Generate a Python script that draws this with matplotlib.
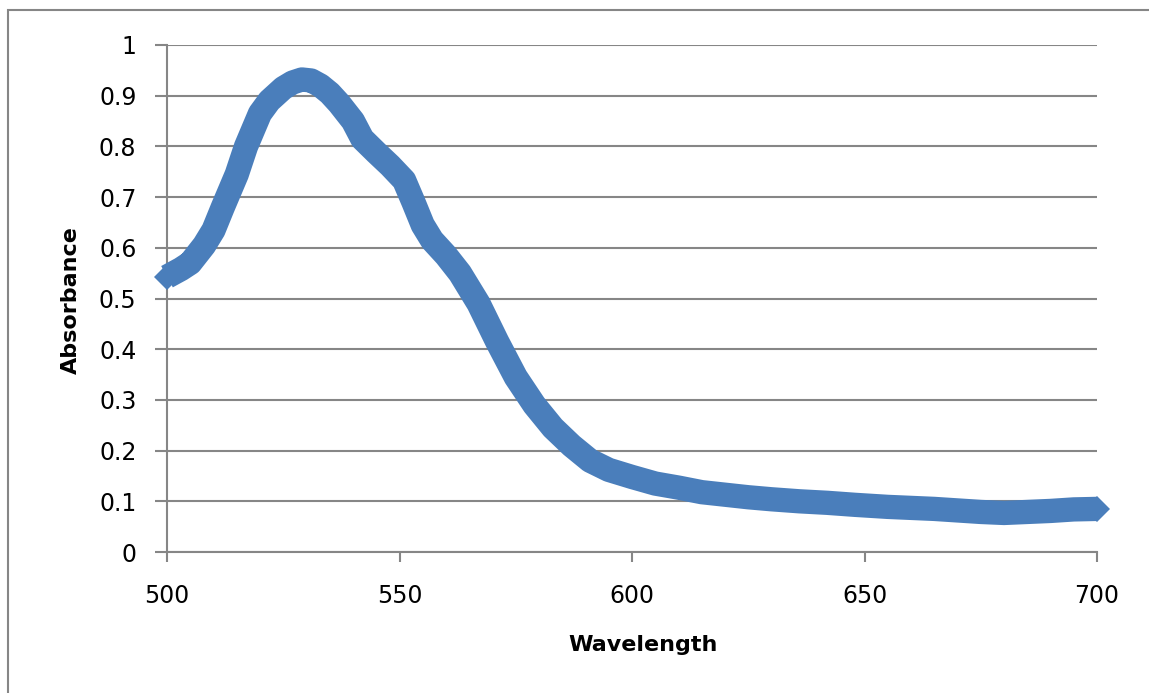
import matplotlib.pyplot as plt
from matplotlib.patches import Rectangle

# absorbance spectrum, read in nm steps
wavelength = [500, 503, 505, 508, 510, 512, 515, 517, 520, 522, 525, 527, 529,
              531, 533, 535, 537, 540, 542, 545, 548, 551, 553, 555, 557, 560,
              563, 567, 571, 575, 579, 583, 587, 591, 595, 600, 605, 610, 615,
              620, 625, 630, 636, 642, 648, 655, 660, 665, 670, 675, 680, 685,
              690, 695, 700]
absorbance = [0.543, 0.558, 0.570, 0.605, 0.635, 0.680, 0.745, 0.800, 0.865,
              0.890, 0.915, 0.926, 0.932, 0.930, 0.920, 0.905, 0.885, 0.850,
              0.815, 0.788, 0.762, 0.733, 0.690, 0.645, 0.615, 0.585, 0.550,
              0.490, 0.415, 0.345, 0.290, 0.245, 0.210, 0.180, 0.162, 0.148,
              0.135, 0.127, 0.118, 0.113, 0.108, 0.104, 0.100, 0.097, 0.093,
              0.089, 0.087, 0.085, 0.082, 0.079, 0.077, 0.079, 0.081, 0.084,
              0.085]

x_ticks = [500, 550, 600, 650, 700]
y_ticks = [0, 0.1, 0.2, 0.3, 0.4, 0.5, 0.6, 0.7, 0.8, 0.9, 1]
y_labels = ["0", "0.1", "0.2", "0.3", "0.4", "0.5", "0.6", "0.7", "0.8", "0.9", "1"]

blue = "#4a7ebb"
grey = "#868686"

plt.rcParams['font.family'] = ['DejaVu Sans']

fig = plt.figure(figsize=(11.49, 6.93), dpi=100)
ax = fig.add_axes([167 / 1149, 141 / 693, 930 / 1149, 507 / 693])

ax.plot(wavelength, absorbance, color=blue, lw=17.5,
        solid_joinstyle='round', solid_capstyle='butt',
        marker='D', markersize=13.4, markevery=[0, len(wavelength) - 1],
        markeredgewidth=0, zorder=3, clip_on=False)

ax.set_xlim(500, 700)
ax.set_ylim(0, 1)
ax.set_xticks(x_ticks)
ax.set_yticks(y_ticks)
ax.set_yticklabels(y_labels)

ax.grid(axis='y', color=grey, lw=1.5)
ax.set_axisbelow(True)
for side in ['top', 'right']:
    ax.spines[side].set_visible(False)
for side in ['left', 'bottom']:
    ax.spines[side].set_color(grey)
    ax.spines[side].set_linewidth(1.5)

ax.tick_params(axis='y', length=9, width=1.5, color=grey, labelsize=17, pad=13)
ax.tick_params(axis='x', length=7, width=1.5, color=grey, labelsize=17, pad=16)

fig.text(643 / 1149, 1 - 645 / 693, "Wavelength", ha='center', va='center',
         fontsize=16, fontweight='bold')
fig.text(71 / 1149, 1 - 300 / 693, "Absorbance", ha='center', va='center',
         rotation=90, fontsize=16, fontweight='bold')

# chart area frame
fig.add_artist(Rectangle((8 / 1149, -0.05), 1.1, 1.05 - 10 / 693,
                         transform=fig.transFigure, fill=False,
                         edgecolor=grey, lw=1.5))

fig.savefig("out.png", dpi=100)
